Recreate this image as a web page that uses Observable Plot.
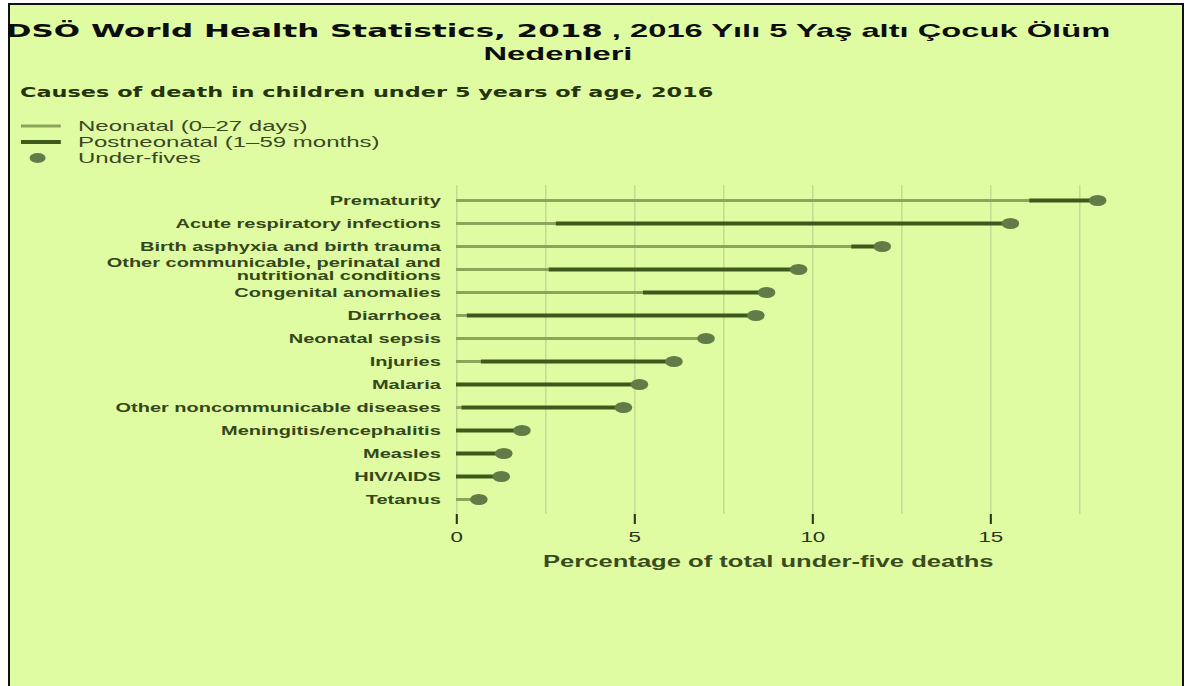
<!DOCTYPE html>
<html>
<head>
<meta charset="utf-8">
<script src="https://cdn.jsdelivr.net/npm/d3@7"></script>
<script src="https://cdn.jsdelivr.net/npm/@observablehq/plot@0.6"></script>
<style>
  html, body { margin: 0; padding: 0; background: #ffffff; width: 1190px; height: 686px; overflow: hidden; }
  #frame { position: absolute; left: 8px; top: 3px; width: 1172px; height: 700px; border: 2px solid #111; background: #e0fca2; }
  #title { position: absolute; left: 558px; top: 19px; white-space: nowrap; text-align: center; font-size: 19px; line-height: 23px; color: #0d0d0d; font-weight: bold; transform: translateX(-50%) scaleX(1.72); transform-origin: 50% 0; }
  #title .a { font-family: "DejaVu Sans", sans-serif; font-weight: bold; font-size: 18px; }
  #title .b { font-family: "Liberation Sans", Arial, sans-serif; font-weight: bold; }
  #wrap { position: absolute; left: 0; top: 0; width: 737.5px; height: 686px; transform: scaleX(1.6); transform-origin: 0 0; }
  #subtitle { position: absolute; left: 12.5px; top: 83px; line-height: 18px; font-family: "DejaVu Sans", sans-serif; font-weight: bold; font-size: 14px; color: #26340e; white-space: nowrap; }
  .leg { position: absolute; left: 12.5px; height: 16px; line-height: 16px; font-family: "Liberation Sans", Arial, sans-serif; font-size: 15px; color: #3a4822; white-space: nowrap; }
  .leg svg { position: absolute; left: 0; top: 0; }
  .leg span { position: absolute; left: 36.25px; top: 0; }
  #chart { position: absolute; left: 0; top: 180px; }
</style>
</head>
<body>
<div id="frame"></div>
<div id="title"><span class="a">DSÖ World Health Statistics, 2018</span><span class="b"> , 2016 Yılı 5 Yaş altı Çocuk Ölüm</span><br><span class="b">Nedenleri</span></div>
<div id="wrap">
  <div id="subtitle"></div>
  <div id="legend"></div>
  <div id="chart"></div>
</div>
<script>
// ---- data ----
const categories = [
  "Prematurity",
  "Acute respiratory infections",
  "Birth asphyxia and birth trauma",
  "Other communicable, perinatal and\nnutritional conditions",
  "Congenital anomalies",
  "Diarrhoea",
  "Neonatal sepsis",
  "Injuries",
  "Malaria",
  "Other noncommunicable diseases",
  "Meningitis/encephalitis",
  "Measles",
  "HIV/AIDS",
  "Tetanus"
];
// share of under-five deaths occurring in the neonatal period (%)
const neonatal  = [16.1, 2.8, 11.1, 2.6, 5.25, 0.3, 7.0, 0.7, 0, 0.15, 0, 0, 0, 0.62];
// total share of under-five deaths (%)
const underFive = [18.0, 15.55, 11.95, 9.6, 8.7, 8.4, 7.0, 6.1, 5.13, 4.68, 1.83, 1.32, 1.25, 0.62];
const xTicks = [0, 5, 10, 15];
const gridValues = [0, 2.5, 5, 7.5, 10, 12.5, 15, 17.5];
const legendItems = ["Neonatal (0–27 days)", "Postneonatal (1–59 months)", "Under-fives"];
const subtitleText = "Causes of death in children under 5 years of age, 2016";
const xLabel = "Percentage of total under-five deaths";

const colNeo = "#8ba55b", colPost = "#3d591c", colDot = "#617c47", colGrid = "#bfd593";

const rows = categories.map((c, i) => ({cause: c, neonatal: neonatal[i], total: underFive[i]}));

document.getElementById("subtitle").textContent = subtitleText;

// legend
const legend = document.getElementById("legend");
const centers = [126, 142, 158];
legendItems.forEach((t, i) => {
  const d = document.createElement("div");
  d.className = "leg";
  d.style.top = (centers[i] - 8) + "px";
  let sw;
  if (i === 0) sw = `<svg width="26" height="16"><line x1="0" x2="25" y1="8" y2="8" stroke="${colNeo}" stroke-width="3"/></svg>`;
  else if (i === 1) sw = `<svg width="26" height="16"><line x1="0" x2="25" y1="8" y2="8" stroke="${colPost}" stroke-width="4"/></svg>`;
  else sw = `<svg width="26" height="16"><circle cx="10.5" cy="8" r="5" fill="${colDot}"/></svg>`;
  d.innerHTML = sw + `<span></span>`;
  d.querySelector("span").textContent = t;
  legend.appendChild(d);
});

const chart = Plot.plot({
  width: 737,
  height: 400,
  marginLeft: 285,
  marginRight: 62.6,
  marginTop: 5,
  marginBottom: 66,
  style: {background: "transparent", fontFamily: "'Liberation Sans', Arial, sans-serif", overflow: "visible"},
  x: {domain: [0, 17.5]},
  y: {domain: categories, padding: 0, range: [20, 319], round: false},
  marks: [
    Plot.ruleX(gridValues, {stroke: colGrid, strokeWidth: 0.8}),
    Plot.ruleY(rows, {y: "cause", x1: 0, x2: "neonatal", stroke: colNeo, strokeWidth: 3}),
    Plot.ruleY(rows, {y: "cause", x1: "neonatal", x2: "total", stroke: colPost, strokeWidth: 4}),
    Plot.dot(rows, {y: "cause", x: "total", r: 5.5, fill: colDot}),
    Plot.axisY({tickSize: 0, tickPadding: 10, fontSize: 12.5, fontWeight: "bold", fill: "#34471a", label: null, lineHeight: 1.0}),
    Plot.axisX({ticks: xTicks, tickSize: 10, tickPadding: 8, fontSize: 14, fill: "#2b3618", stroke: "#2b3618", strokeWidth: 1.3, label: null}),
    Plot.text([xLabel], {frameAnchor: "bottom", lineAnchor: "middle", dy: 47, fontSize: 16, fontWeight: "bold", fill: "#3a4b1d"})
  ]
});
document.getElementById("chart").appendChild(chart);
</script>
</body>
</html>
